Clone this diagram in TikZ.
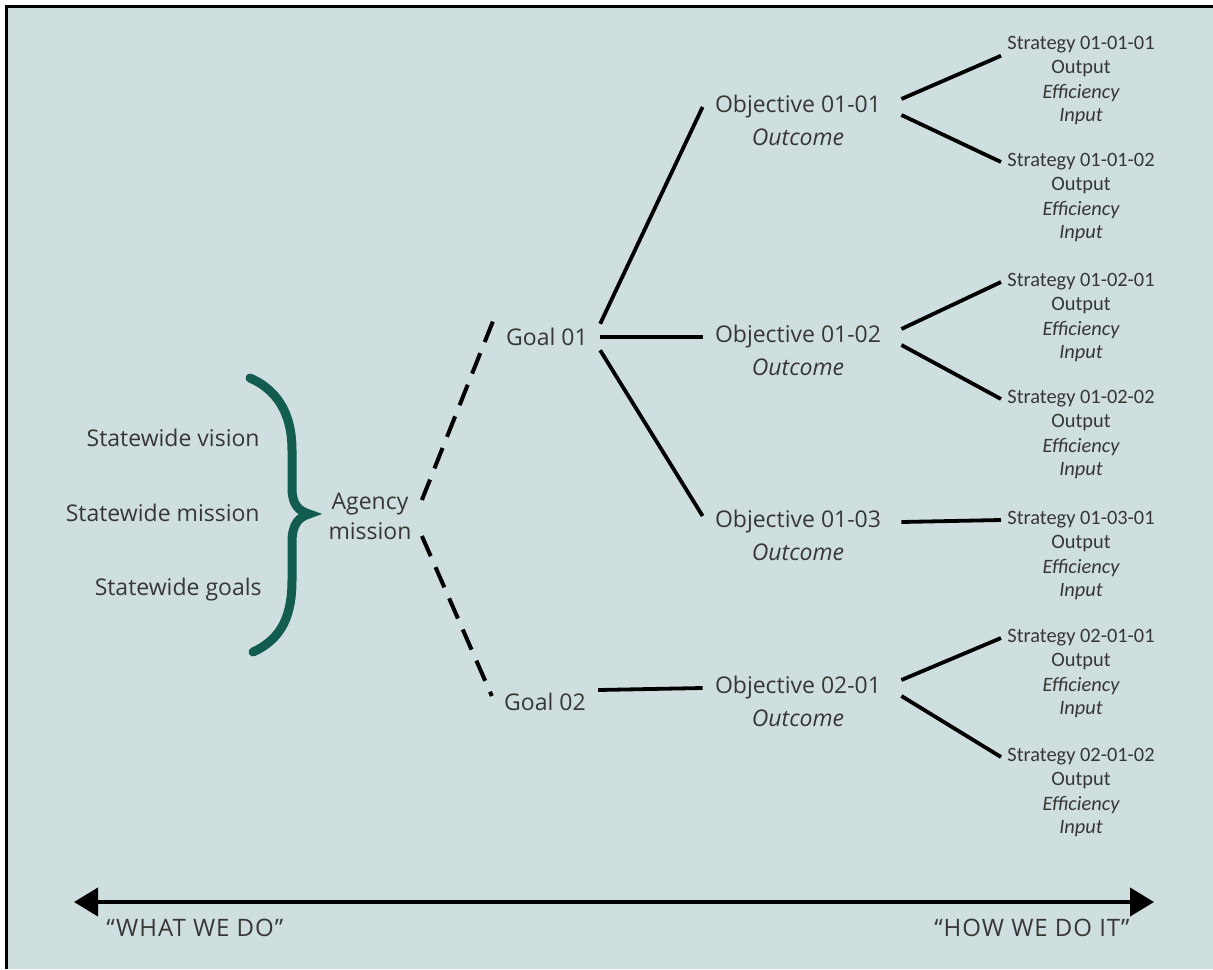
\documentclass[tikz,border=0pt]{standalone}
\usepackage{fontspec}
\setmainfont{Open Sans}
\newfontfamily\stratfont{Carlito}
\usetikzlibrary{arrows.meta,positioning,calc}

\definecolor{paper}{RGB}{207,222,222}
\definecolor{ink}{RGB}{55,55,55}
\definecolor{bracegreen}{RGB}{18,92,80}

\tikzset{
  big/.style={text=ink, font=\fontsize{11.5}{13}\selectfont, inner xsep=6pt, inner ysep=2pt},
  strat/.style={text=ink, font=\stratfont\fontsize{10.2}{12}\selectfont, inner xsep=3pt, inner ysep=1pt},
  stratit/.style={strat, font=\stratfont\itshape\fontsize{10.2}{12}\selectfont},
  axislabel/.style={big, inner xsep=0pt, font=\fontsize{12}{14}\selectfont\addfontfeature{LetterSpace=4}},
  link/.style={line width=1.9pt},
  dashlink/.style={line width=2pt, dash pattern=on 11pt off 6pt},
}

\begin{document}
\begin{tikzpicture}[x=0.5pt, y=-0.5pt]
  \useasboundingbox (0,0) rectangle (1213,969);
  \fill[white] (0,0) rectangle (1213,969);
  \fill[paper] (6,6) rectangle (1213,969);
  \draw[line width=1.5pt] (6,969) -- (6,6) -- (1213,6);

  % statewide items and brace
  \node[big, anchor=east] (vision)  at (272,438) {Statewide vision};
  \node[big, anchor=east] (smission) at (272,513) {Statewide mission};
  \node[big, anchor=east] (sgoals)  at (274,590) {Statewide goals};
  \draw[bracegreen, line width=4.5pt, line cap=round]
    (250,378) .. controls (282,392) and (292,420) .. (292,450) -- (292,488)
    .. controls (292,505) and (299,511) .. (309,514)
    .. controls (299,517) and (292,524) .. (292,542) -- (292,580)
    .. controls (292,612) and (284,638) .. (253,652);

  \node[big, align=center, font=\fontsize{11.5}{15}\selectfont] (agency) at (370,516) {Agency\\mission};

  % goals
  \node[big] (goal1) at (547,337) {Goal 01};
  \node[big] (goal2) at (545,702) {Goal 02};

  % objectives
  \foreach \name/\code/\y in {o11/01-01/107, o12/01-02/337, o13/01-03/522, o21/02-01/688} {
    \node[big] (\name) at (798,\y) {Objective \code};
    \node[big, font=\itshape\fontsize{11.5}{13}\selectfont] (\name-out) at (798,\y+30) {Outcome};
  }

  % strategies
  \foreach \name/\code/\y in {s111/01-01-01/45, s112/01-01-02/162, s121/01-02-01/282,
      s122/01-02-02/399, s131/01-03-01/520, s211/02-01-01/638, s212/02-01-02/757} {
    \node[strat] (\name) at (1081,\y) {Strategy \code};
    \node[strat] (\name-out) at (1081,\y+24) {Output};
    \node[stratit] (\name-eff) at (1081,\y+48) {Efficiency};
    \node[stratit] (\name-in) at (1081,\y+72) {Input};
  }

  % dashed links
  \draw[dashlink] ([xshift=-1pt, yshift=8pt]agency.east) -- ([yshift=9pt]goal1.west);
  \draw[dashlink] ([xshift=-1pt, yshift=-10pt]agency.east) -- ([yshift=3pt]goal2.west);

  % solid links
  \draw[link] (goal1.north east) -- (o11.west);
  \draw[link] (goal1.east) -- (o12.west);
  \draw[link] (goal1.south east) -- ([yshift=3pt]o13.west);
  \draw[link] ([yshift=6pt]goal2.east) -- (o21.west);

  \draw[link] ([xshift=4pt, yshift=4pt]o11.east) -- (s111.south west);
  \draw[link] ([xshift=4pt, yshift=-4pt]o11.east) -- (s112.west);
  \draw[link] ([xshift=4pt, yshift=4pt]o12.east) -- (s121.west);
  \draw[link] ([xshift=4pt, yshift=-4pt]o12.east) -- (s122.west);
  \draw[link] ([xshift=4pt]o13.east) -- (s131.west);
  \draw[link] ([xshift=4pt, yshift=4pt]o21.east) -- (s211.west);
  \draw[link] ([xshift=4pt, yshift=-4pt]o21.east) -- (s212.west);

  % axis
  \coordinate (whatend) at (74,902);
  \coordinate (howend) at (1154,902);
  \draw[line width=2pt, {Triangle[width=14pt,length=12pt]}-{Triangle[width=14pt,length=12pt]}] (whatend) -- (howend);
  \node[axislabel, anchor=west] (what) at (106,928) {“WHAT WE DO”};
  \node[axislabel, anchor=east] (how) at (1130,928) {“HOW WE DO IT”};
\end{tikzpicture}
\end{document}
